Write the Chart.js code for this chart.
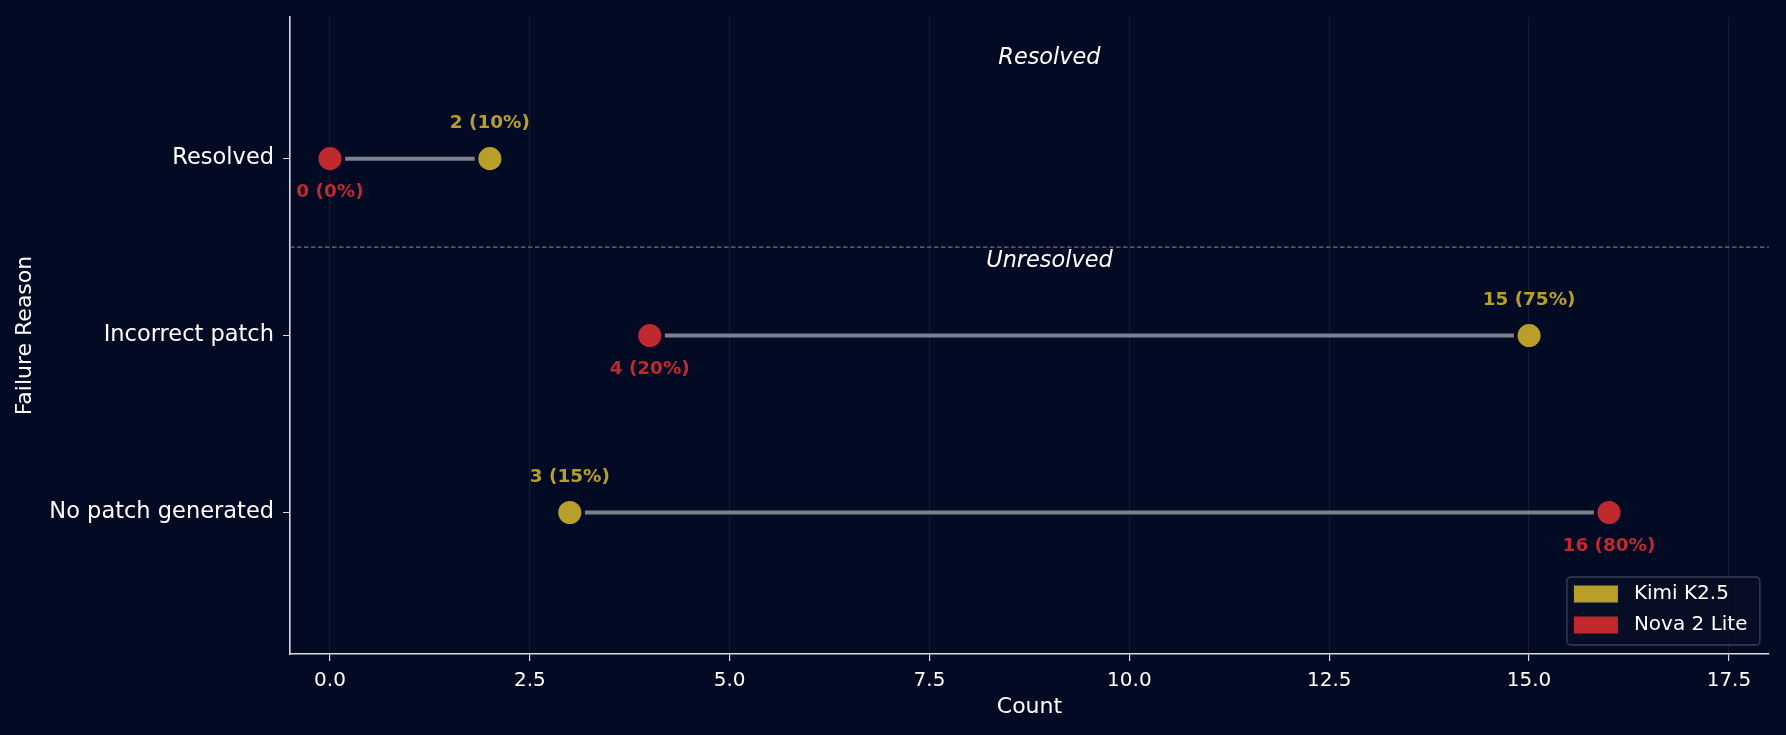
<!DOCTYPE html>
<html>
<head>
<meta charset="utf-8">
<script src="https://cdn.jsdelivr.net/npm/chart.js@4/dist/chart.umd.min.js"></script>
<style>
  html, body { margin: 0; padding: 0; background: #030a23; }
  #wrap { width: 1786px; height: 735px; position: relative; }
</style>
</head>
<body>
<div id="wrap"><canvas id="dumbbellChart"></canvas></div>
<script>
// data
const categories = ["Resolved", "Incorrect patch", "No patch generated"];
const kimiCounts = [2, 15, 3];
const novaCounts = [0, 4, 16];
const totalTasks = 20;
const xTickValues = [0, 2.5, 5, 7.5, 10, 12.5, 15, 17.5];
const sectionLabels = ["Resolved", "Unresolved"];

const colors = {
  bg: "#030a23",
  kimi: "#b89f2a",
  nova: "#c0292d",
  connector: "#7d808d",
  text: "#ffffff",
  spine: "#d9d9de",
  grid: "rgba(255, 255, 255, 0.07)",
  divider: "#6e7282",
};

const font = "'DejaVu Sans', sans-serif";

// category index -> y position (top row highest)
const rowPos = (i) => categories.length - 1 - i;

const connectorSets = categories.map((cat, i) => ({
  label: cat,
  isConnector: true,
  type: "line",
  data: [
    { x: kimiCounts[i], y: rowPos(i) },
    { x: novaCounts[i], y: rowPos(i) },
  ],
  borderColor: colors.connector,
  borderWidth: 4,
  pointRadius: 0,
  showLine: true,
  order: 2,
}));

const pointSet = (label, counts, color, side) => ({
  label,
  side,
  data: counts.map((v, i) => ({ x: v, y: rowPos(i) })),
  backgroundColor: color,
  borderColor: colors.bg,
  borderWidth: 3.7,
  pointRadius: 13.4,
  pointHoverRadius: 13.4,
  order: 1,
});

const overlays = {
  id: "overlays",
  beforeDatasetsDraw(chart) {
    const { ctx, chartArea, scales } = chart;
    const yy = scales.y.getPixelForValue(1.5);
    ctx.save();
    ctx.strokeStyle = colors.divider;
    ctx.lineWidth = 1.3;
    ctx.setLineDash([4.5, 2.5]);
    ctx.beginPath();
    ctx.moveTo(chartArea.left, yy);
    ctx.lineTo(chartArea.right, yy);
    ctx.stroke();
    ctx.restore();
  },
  afterDatasetsDraw(chart) {
    const { ctx, scales } = chart;
    ctx.save();
    ctx.textAlign = "center";
    ctx.textBaseline = "middle";

    // value labels: Kimi above, Nova below
    chart.data.datasets.forEach((ds) => {
      if (ds.isConnector) return;
      ctx.fillStyle = ds.backgroundColor;
      ctx.font = `bold 18.4px ${font}`;
      ds.data.forEach((pt) => {
        const px = scales.x.getPixelForValue(pt.x);
        const py = scales.y.getPixelForValue(pt.y);
        const pct = Math.round((pt.x / totalTasks) * 100);
        const dy = ds.side === "above" ? -35 : 34;
        ctx.fillText(`${pt.x} (${pct}%)`, px, py + dy);
      });
    });

    // section headers
    ctx.fillStyle = colors.text;
    ctx.font = `italic 22.4px ${font}`;
    const midX = scales.x.getPixelForValue(9);
    ctx.fillText(sectionLabels[0], midX, scales.y.getPixelForValue(2.57));
    ctx.fillText(sectionLabels[1], midX, scales.y.getPixelForValue(1.42));
    ctx.restore();
  },
  afterDraw(chart) {
    // boxed legend in the lower right corner
    const { ctx, chartArea } = chart;
    const items = chart.data.datasets.filter((ds) => !ds.isConnector);
    const boxW = 193;
    const boxH = 68;
    const left = chartArea.right - 9 - boxW;
    const top = chartArea.bottom - 9 - boxH;
    ctx.save();
    ctx.fillStyle = "rgba(8, 14, 36, 0.85)";
    ctx.strokeStyle = "#3a4053";
    ctx.lineWidth = 1.3;
    ctx.beginPath();
    ctx.roundRect(left, top, boxW, boxH, 4);
    ctx.fill();
    ctx.stroke();
    ctx.font = `20px ${font}`;
    ctx.textBaseline = "middle";
    ctx.textAlign = "left";
    items.forEach((ds, i) => {
      const cy = top + 17 + i * 31;
      ctx.fillStyle = ds.backgroundColor;
      ctx.fillRect(left + 7, cy - 8.5, 44, 17);
      ctx.fillStyle = colors.text;
      ctx.fillText(ds.label, left + 67, cy);
    });
    ctx.restore();
  },
};

new Chart(document.getElementById("dumbbellChart"), {
  type: "scatter",
  data: {
    datasets: [
      pointSet("Kimi K2.5", kimiCounts, colors.kimi, "above"),
      pointSet("Nova 2 Lite", novaCounts, colors.nova, "below"),
      ...connectorSets,
    ],
  },
  options: {
    responsive: true,
    maintainAspectRatio: false,
    animation: false,
    layout: { padding: { left: 0, right: 11, top: 15, bottom: 0 } },
    plugins: {
      legend: { display: false },
      tooltip: { enabled: false },
    },
    scales: {
      x: {
        type: "linear",
        min: -0.5,
        max: 18,
        afterBuildTicks(scale) {
          scale.ticks = xTickValues.map((v) => ({ value: v }));
        },
        afterFit(scale) {
          scale.height = 81;
          scale.paddingLeft = 0;
          scale.paddingRight = 0;
        },
        ticks: {
          color: colors.text,
          padding: 8,
          font: { family: font, size: 20 },
          callback(value) {
            return Number(value).toFixed(1);
          },
        },
        grid: {
          color: colors.grid,
          lineWidth: 1.2,
          tickColor: colors.spine,
          tickLength: 7,
        },
        border: { color: colors.spine, width: 1.6 },
        title: {
          display: true,
          text: "Count",
          color: colors.text,
          font: { family: font, size: 22 },
          padding: { top: 0, bottom: 15 },
        },
      },
      y: {
        type: "linear",
        min: -0.8,
        max: 2.8,
        afterBuildTicks(scale) {
          scale.ticks = categories.map((c, i) => ({ value: rowPos(i) }));
        },
        afterFit(scale) {
          scale.width = 290;
          scale.paddingTop = 0;
          scale.paddingBottom = 0;
        },
        ticks: {
          color: colors.text,
          padding: 9,
          font: { family: font, size: 22.5 },
          callback(value) {
            return categories[categories.length - 1 - value];
          },
        },
        grid: {
          drawOnChartArea: false,
          tickColor: colors.spine,
          tickLength: 7,
        },
        border: { color: colors.spine, width: 1.6 },
        title: {
          display: true,
          text: "Failure Reason",
          color: colors.text,
          font: { family: font, size: 22 },
          padding: { top: 12, bottom: 0 },
        },
      },
    },
  },
  plugins: [overlays],
});
</script>
</body>
</html>
